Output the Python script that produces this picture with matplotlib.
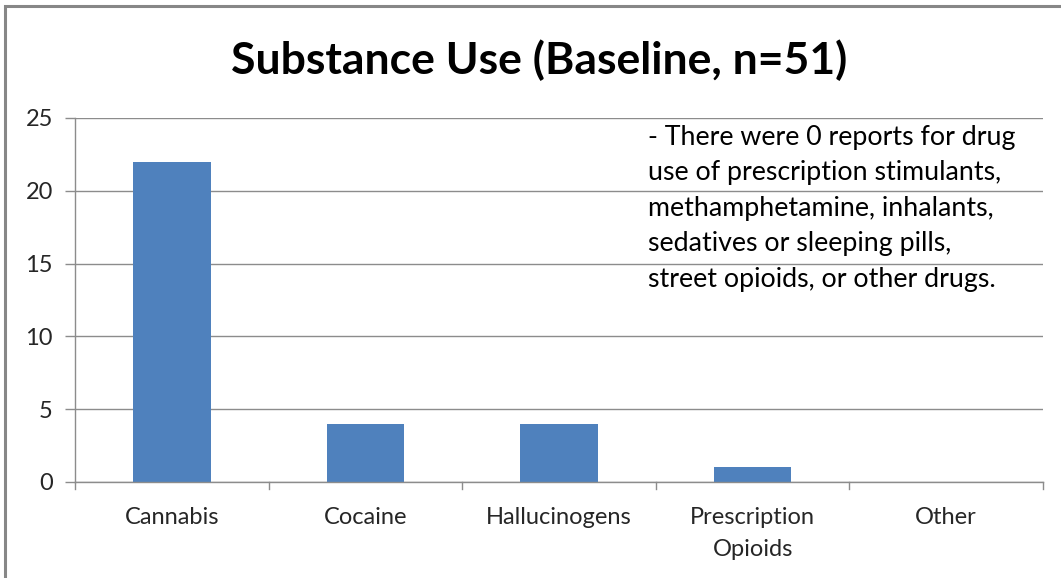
import matplotlib.pyplot as plt
from matplotlib.patches import Rectangle

plt.rcParams['font.family'] = ['Lato', 'DejaVu Sans']

# Number of participants reporting use at baseline
categories = ['Cannabis', 'Cocaine', 'Hallucinogens', 'Prescription\nOpioids', 'Other']
counts = [22, 4, 4, 1, 0]

note = ('- There were 0 reports for drug\n'
        'use of prescription stimulants,\n'
        'methamphetamine, inhalants,\n'
        'sedatives or sleeping pills,\n'
        'street opioids, or other drugs.')

BAR_COLOR = '#4F81BD'
GRID_COLOR = '#8C8C8C'

fig = plt.figure(figsize=(10.61, 5.78), dpi=100)
ax = fig.add_axes([75 / 1061, 1 - 482 / 578, 968 / 1061, 364 / 578])

x = list(range(len(categories)))
ax.bar(x, counts, width=0.4, color=BAR_COLOR, zorder=3)

ax.set_xlim(-0.5, len(categories) - 0.5)
ax.set_ylim(0, 25)
ax.set_yticks([0, 5, 10, 15, 20, 25])
ax.set_xticks(x)
ax.set_xticklabels(categories, fontsize=17, color='#262626', linespacing=1.62)
ax.tick_params(axis='x', length=0, pad=18)
ax.tick_params(axis='y', length=7, width=1, color=GRID_COLOR, labelsize=17,
               labelcolor='#262626', pad=9)

# category separator ticks along the x axis
for b in [i - 0.5 for i in range(len(categories) + 1)]:
    ax.plot([b, b], [0, -0.45], color=GRID_COLOR, lw=1, clip_on=False, zorder=4)

ax.grid(axis='y', color=GRID_COLOR, lw=1, zorder=0)
for side in ['top', 'right']:
    ax.spines[side].set_visible(False)
for side in ['left', 'bottom']:
    ax.spines[side].set_color(GRID_COLOR)
    ax.spines[side].set_linewidth(1)
    ax.spines[side].set_zorder(4)

ax.text(648 / 1061, 1 - 125 / 578, note, transform=fig.transFigure,
        fontsize=19.3, color='#000000', va='top', ha='left', linespacing=1.52)

fig.text(539 / 1061, 1 - 60 / 578, 'Substance Use (Baseline, n=51)',
         fontsize=32, fontweight='bold', ha='center', va='center', color='#000000')

# outer chart frame
fig.patches.append(Rectangle((5 / 1061, -0.05), 1.1, 1 - 6 / 578 + 0.05,
                             transform=fig.transFigure, fill=False,
                             edgecolor='#878787', lw=2.2))

fig.savefig('out.png', dpi=100)
